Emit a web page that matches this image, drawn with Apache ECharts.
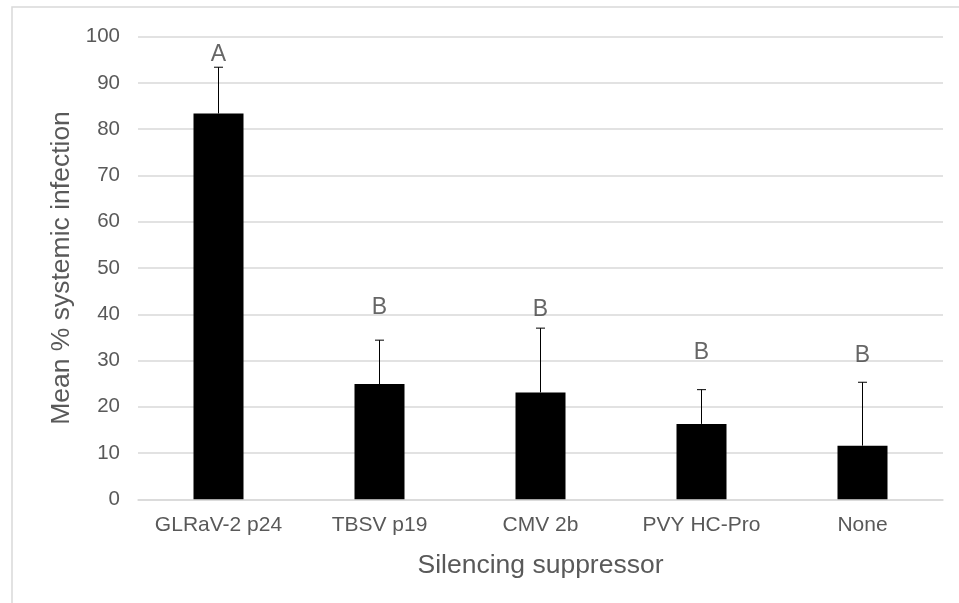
<!DOCTYPE html>
<html>
<head>
<meta charset="utf-8">
<script src="https://cdn.jsdelivr.net/npm/echarts@6/dist/echarts.min.js"></script>
<style>
html,body{margin:0;padding:0;background:#fff;}
#c{width:959px;height:603px;}
</style>
</head>
<body>
<div id="c"></div>
<script>
const categories = ['GLRaV-2 p24', 'TBSV p19', 'CMV 2b', 'PVY HC-Pro', 'None'];
const meanValues = [83.4, 24.9, 23.1, 16.3, 11.6];
const errorUpper = [93.4, 34.4, 37.0, 23.7, 25.3];
const letters = ['A', 'B', 'B', 'B', 'B'];
const letterValues = [96.2, 41.5, 41.0, 31.6, 31.0];
const yTicks = [0, 10, 20, 30, 40, 50, 60, 70, 80, 90, 100];

const FONT = '"Liberation Sans", Arial, sans-serif';
const chart = echarts.init(document.getElementById('c'), null, {renderer: 'canvas'});

chart.setOption({
  animation: false,
  backgroundColor: '#fff',
  graphic: [{
    type: 'rect',
    shape: {x: 12, y: 7, width: 1200, height: 900},
    style: {fill: 'none', stroke: '#d9d9d9', lineWidth: 1.5},
    silent: true, z: -10
  }],
  grid: {left: 138, right: 16, top: 36.7, bottom: 103.7, containLabel: false},
  xAxis: {
    type: 'category',
    data: categories,
    name: 'Silencing suppressor',
    nameLocation: 'middle',
    nameGap: 53,
    nameTextStyle: {fontFamily: FONT, fontSize: 26.5, color: '#595959'},
    axisLine: {show: true, lineStyle: {color: '#d9d9d9', width: 1.5}},
    axisTick: {show: false},
    axisLabel: {interval: 0, hideOverlap: false, fontFamily: FONT, fontSize: 21, color: '#595959', margin: 15},
    splitLine: {show: false}
  },
  yAxis: {
    type: 'value',
    min: yTicks[0],
    max: yTicks[yTicks.length - 1],
    interval: 10,
    name: 'Mean % systemic infection',
    nameLocation: 'middle',
    nameGap: 61,
    nameTextStyle: {fontFamily: FONT, fontSize: 26.5, color: '#595959'},
    axisLine: {show: false},
    axisTick: {show: false},
    axisLabel: {fontFamily: FONT, fontSize: 20.5, color: '#595959', margin: 18},
    splitLine: {show: true, lineStyle: {color: '#d9d9d9', width: 1.5}}
  },
  series: [
    {
      type: 'bar',
      data: meanValues,
      barWidth: 50,
      itemStyle: {color: '#000'},
      z: 2
    },
    {
      type: 'custom',
      data: meanValues.map((v, i) => [i, v, errorUpper[i]]),
      renderItem: function (params, api) {
        const i = api.value(0);
        const p0 = api.coord([i, api.value(1)]);
        const p1 = api.coord([i, api.value(2)]);
        const hw = 4.5;
        return {
          type: 'group',
          children: [
            {type: 'line', shape: {x1: p0[0], y1: p0[1], x2: p1[0], y2: p1[1]}, style: {stroke: '#000', lineWidth: 1}},
            {type: 'line', shape: {x1: p1[0] - hw, y1: p1[1], x2: p1[0] + hw, y2: p1[1]}, style: {stroke: '#000', lineWidth: 1}}
          ]
        };
      },
      z: 3
    },
    {
      type: 'scatter',
      data: letterValues.map((v, i) => [i, v]),
      symbolSize: 0,
      label: {
        show: true,
        position: 'inside',
        formatter: p => letters[p.dataIndex],
        fontFamily: FONT,
        fontSize: 23,
        color: '#404040'
      },
      z: 4
    }
  ]
});
</script>
</body>
</html>
